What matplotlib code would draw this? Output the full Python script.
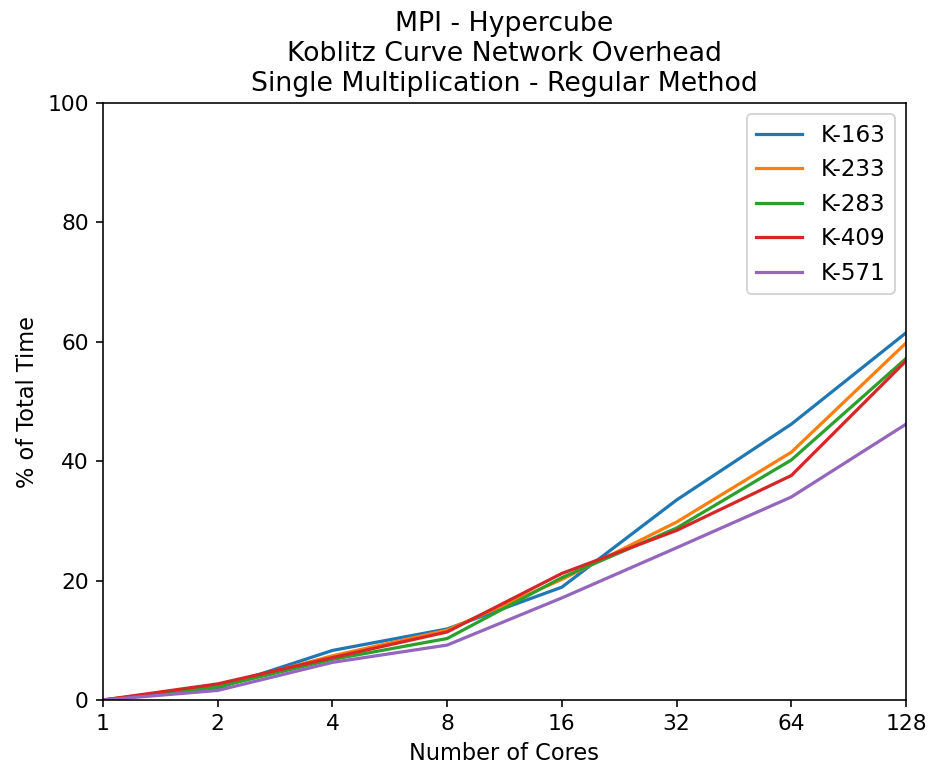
import matplotlib as mpl

mpl.use("Agg")
import matplotlib.pyplot as plt

cores = [1, 2, 4, 8, 16, 32, 64, 128]
labels = ["K-163", "K-233", "K-283", "K-409", "K-571"]
k163 = [0.0, 2.0, 8.3, 11.9, 18.9, 33.5, 46.2, 61.5]
k233 = [0.0, 2.3, 7.4, 11.7, 20.2, 29.8, 41.5, 59.8]
k283 = [0.0, 2.2, 6.8, 10.3, 20.5, 28.8, 40.2, 57.2]
k409 = [0.0, 2.7, 7.1, 11.4, 21.2, 28.4, 37.6, 56.8]
k571 = [0.0, 1.6, 6.3, 9.2, 17.1, 25.5, 34.0, 46.2]
series = [k163, k233, k283, k409, k571]

fig = plt.figure(figsize=(930 / 145, 769 / 145), dpi=145)
ax = fig.add_axes([103 / 930, 1 - 700 / 769, 803 / 930, 597 / 769])

for vals, lab in zip(series, labels):
    ax.plot(cores, vals, label=lab, linewidth=1.6)

ax.set_xscale("log", base=2)
ax.set_xticks(cores)
ax.set_xticklabels([str(c) for c in cores])
ax.minorticks_off()
ax.set_xlim(1, 128)
ax.set_ylim(0, 100)
ax.tick_params(labelsize=10.8)
ax.set_xlabel("Number of Cores", fontsize=11.2)
ax.set_ylabel("% of Total Time", fontsize=11.2)
ax.set_title(
    "MPI - Hypercube\nKoblitz Curve Network Overhead\nSingle Multiplication - Regular Method",
    fontsize=13.3,
)
ax.legend(loc="upper right", fontsize=11.4)

fig.savefig("out.png", dpi=145, facecolor="white")
